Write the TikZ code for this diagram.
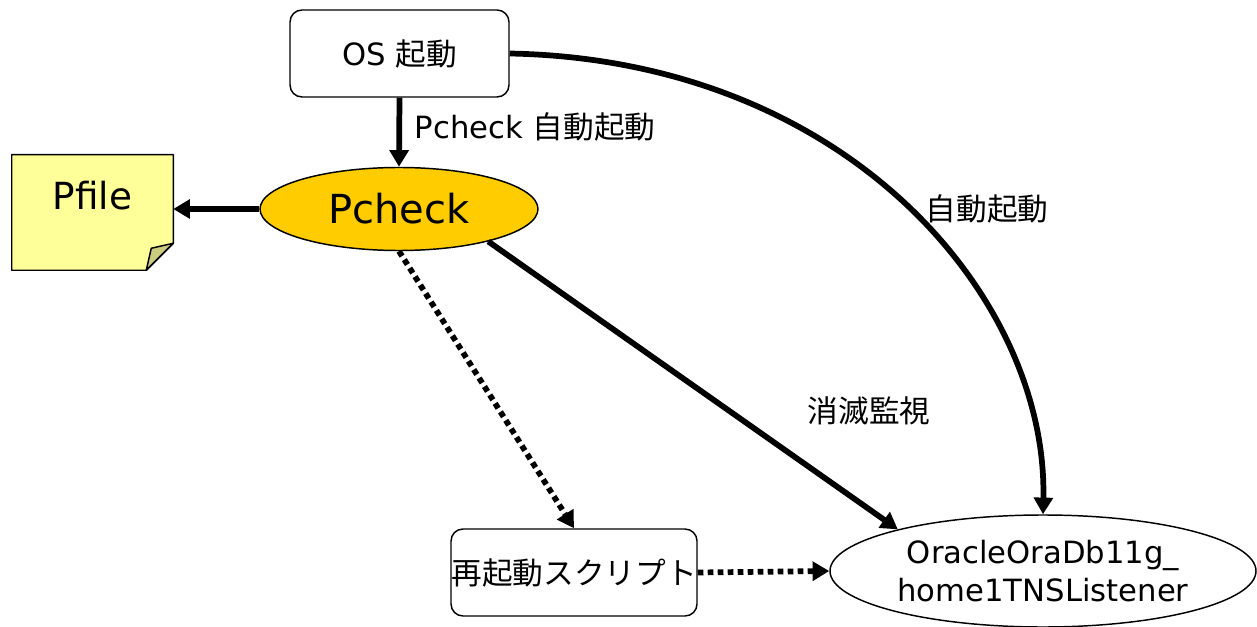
\documentclass[tikz,border=0pt]{standalone}
\usepackage{fontspec}
\setmainfont{DejaVu Sans}
\newfontfamily\cjk{Noto Sans CJK JP}
\usetikzlibrary{arrows.meta,shapes.geometric,calc}
\definecolor{pcheckfill}{HTML}{FFCC00}
\definecolor{notefill}{HTML}{FFFF99}
\definecolor{foldfill}{HTML}{CCCC80}
\begin{document}
\begin{tikzpicture}[x=0.75pt,y=-0.75pt,
  txt/.style={font=\fontsize{23}{27}\selectfont},
  roundbox/.style={draw, line width=1.1pt, rounded corners=9pt, minimum height=65.25pt, inner sep=0pt, txt},
  oval/.style={ellipse, draw, line width=1.1pt, inner sep=0pt},
  conn/.style={line width=4.3pt, -{Triangle[length=12.5pt,width=14pt]}},
  dotconn/.style={conn, dash pattern=on 4.3pt off 3.2pt},
  notebody/.style={draw, line width=1.1pt, fill=notefill, line join=round},
  notefold/.style={draw, line width=1.1pt, fill=foldfill, line join=round}
]
\useasboundingbox (0,0) rectangle (1257,627);

% nodes
\node[roundbox, minimum width=164.25pt] (os) at (399.5,53.5) {OS {\cjk 起動}};
\node[oval, fill=pcheckfill, minimum width=208.5pt, minimum height=62.25pt, font=\fontsize{30}{34}\selectfont] (pcheck) at (399,209) {Pcheck};
\node[roundbox, minimum width=184.5pt] (restart) at (574,572.5) {\cjk 再起動スクリプト};
\node[oval, minimum width=319.5pt, minimum height=84pt, txt, align=center] (listener) at (1043,571) {OracleOraDb11g\_\\[1pt]home1TNSListener};

% Pfile note
\node[minimum width=120.75pt, minimum height=86.25pt, inner sep=0pt] (pfile) at (92.5,212.5) {};
\draw[notebody] (pfile.north west) -- (pfile.north east) -- ($(pfile.south east)+(0,-27)$) -- ($(pfile.south east)+(-27,0)$) -- (pfile.south west) -- cycle;
\draw[notefold] ($(pfile.south east)+(0,-27)$) -- ($(pfile.south east)+(-27,0)$) -- ($(pfile.south east)+(-22,-22)$) -- cycle;
\node[font=\fontsize{28}{31}\selectfont] (pfiletext) at ($(pfile.center)+(0,-17)$) {Pfile};

% connectors
\draw[conn] (os.south) -- (pcheck.north);
\draw[conn] (pcheck.west) -- (pcheck.west -| pfile.east);
\draw[conn] (pcheck.-20) -- (listener.164);
\draw[dotconn] (pcheck.south) -- (restart.north);
\draw[dotconn] (restart.east) -- (listener.west);
\draw[conn] (os.east) .. controls (850,60) and (1048,300) .. (listener.north);

% labels
\node[txt, anchor=west] (lbl1) at (410,127) {Pcheck {\cjk 自動起動}};
\node[txt] (lbl2) at (987,209) {\cjk 自動起動};
\node[txt] (lbl3) at (869,411) {\cjk 消滅監視};
\end{tikzpicture}
\end{document}
